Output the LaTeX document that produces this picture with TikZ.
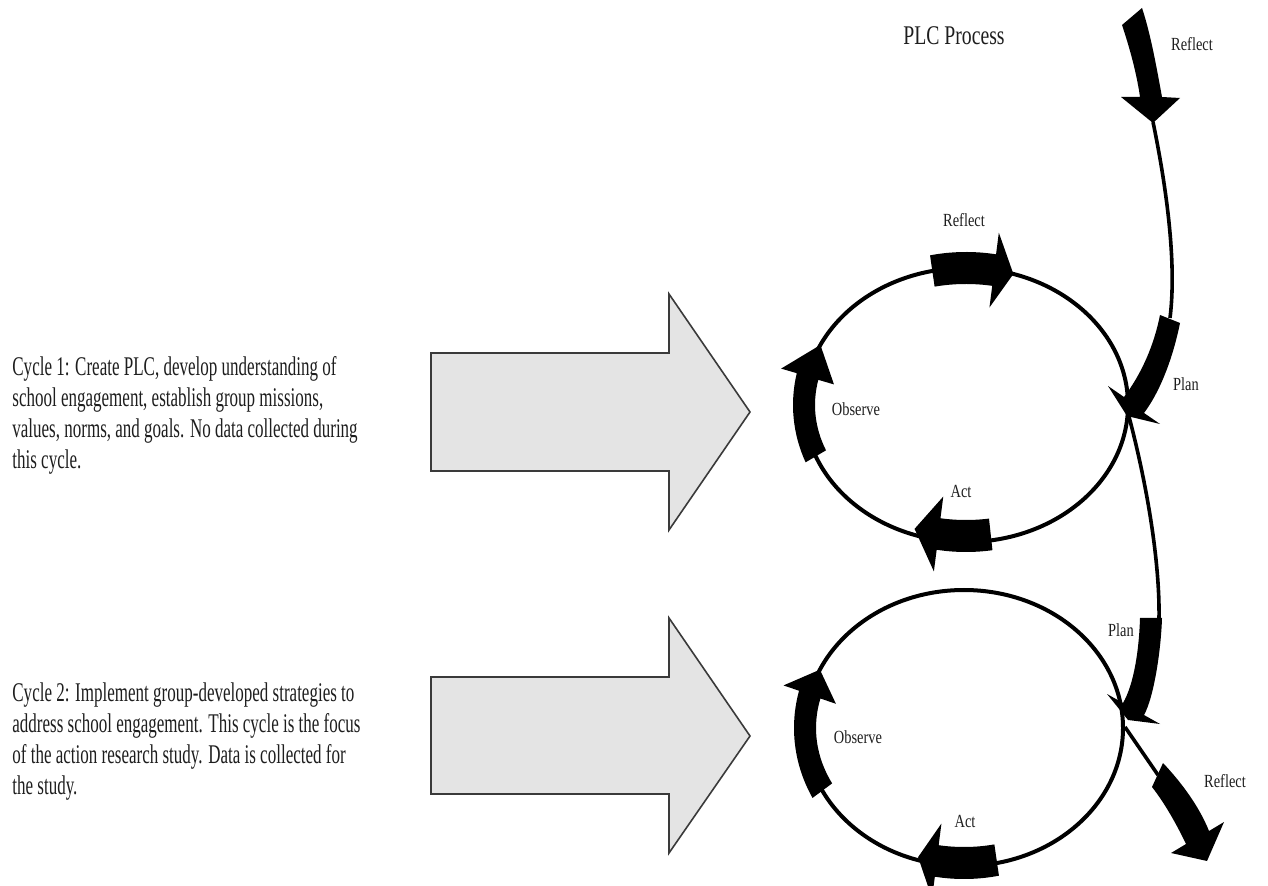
\documentclass[tikz,border=0pt]{standalone}
\usepackage{fontspec}
\setmainfont{Liberation Serif}
\newfontfamily\bodyfont{Liberation Serif}[FakeStretch=0.63]
\newfontfamily\titlefont{Liberation Serif}[FakeStretch=0.73]
\newfontfamily\labelfont{Liberation Serif}[FakeStretch=0.78]
\definecolor{arrowgray}{HTML}{E4E4E4}
\definecolor{arrowedge}{HTML}{3A3A3A}
\definecolor{inktext}{HTML}{1E1E1E}

% Thick block arrow running along an ellipse:
% #1,#2 centre; #3,#4 radii; #5 start angle; #6 end of body; #7 tip angle
\newcommand\ringarrow[7]{%
  \begin{scope}[shift={(#1,#2)}]
    \pgfmathsetmacro\rgAo{#3+11}\pgfmathsetmacro\rgBo{#4+16}%
    \pgfmathsetmacro\rgAi{#3-11}\pgfmathsetmacro\rgBi{#4-16}%
    \pgfmathsetmacro\rgAh{#3+27}\pgfmathsetmacro\rgBh{#4+38}%
    \pgfmathsetmacro\rgAj{#3-27}\pgfmathsetmacro\rgBj{#4-38}%
    \fill ({\rgAo*cos(#5)},{\rgBo*sin(#5)})
      arc[start angle=#5,end angle=#6,x radius=\rgAo,y radius=\rgBo]
      -- ({\rgAh*cos(#6)},{\rgBh*sin(#6)})
      -- ({#3*cos(#7)},{#4*sin(#7)})
      -- ({\rgAj*cos(#6)},{\rgBj*sin(#6)})
      -- ({\rgAi*cos(#6)},{\rgBi*sin(#6)})
      arc[start angle=#6,end angle=#5,x radius=\rgAi,y radius=\rgBi]
      -- cycle;
  \end{scope}}

\tikzset{
  ring/.style={line width=2pt},
  link/.style={line width=1.8pt},
  bigarrow/.style={fill=arrowgray,draw=arrowedge,line width=0.8pt,line join=miter},
  lbl/.style={inner sep=0pt,text=inktext,font=\labelfont\fontsize{9.25pt}{11pt}\selectfont},
  titletext/.style={inner sep=0pt,text=inktext,font=\titlefont\fontsize{13.5pt}{16pt}\selectfont},
  cycletext/.style={inner sep=0pt,anchor=base west,text=inktext}
}

\begin{document}
\begin{tikzpicture}[x=0.5pt,y=-0.5pt]
\fill[white] (0,0) rectangle (1268,886);
\useasboundingbox (0,0) rectangle (1268,886);

% descriptions of the two cycles
\node[cycletext] (cycA) at (12,376) {\parbox[t]{220pt}{\bodyfont\fontsize{13.5pt}{15.5pt}\selectfont\raggedright
Cycle 1: Create PLC, develop understanding of\\
school engagement, establish group missions,\\
values, norms, and goals. No data collected during\\
this cycle.}};
\node[cycletext] (cycB) at (12,701) {\parbox[t]{220pt}{\bodyfont\fontsize{13.5pt}{15.5pt}\selectfont\raggedright
Cycle 2: Implement group-developed strategies to\\
address school engagement. This cycle is the focus\\
of the action research study. Data is collected for\\
the study.}};

% large grey block arrows
\draw[bigarrow] (431,353) -- (669,353) -- (669,294) -- (750,412) -- (669,530) -- (669,471) -- (431,471) -- cycle;
\draw[bigarrow] (431,677) -- (669,677) -- (669,618) -- (750,736) -- (669,853) -- (669,794) -- (431,794) -- cycle;

% the two cycles
\draw[ring] (966,405) ellipse[x radius=162,y radius=137];
\draw[ring] (964,728) ellipse[x radius=159,y radius=138];

% anchor points of the connecting lines
\coordinate (topTip) at (1153,122);
\coordinate (planAtop) at (1170,318);
\coordinate (planAtip) at (1128,413);
\coordinate (planBtop) at (1159,619);
\coordinate (ringBright) at (1125,727);
\coordinate (reflBtop) at (1158,775);

% connecting lines
\draw[link] (topTip) .. controls (1166,185) and (1177,262) .. (planAtop);
\draw[link] (planAtip) .. controls (1146,480) and (1160,560) .. (planBtop);
\draw[link] (ringBright) -- (reflBtop);

% thick arrows on the first cycle
\ringarrow{966}{405}{162}{137}{258}{280}{287}   % reflect
\ringarrow{966}{405}{158}{131}{81}{100}{109}    % act
\ringarrow{966}{405}{162}{137}{158}{192}{206}   % observe

% thick arrows on the second cycle
\ringarrow{964}{728}{157}{135}{78}{100}{107}    % act
\ringarrow{964}{728}{159}{138}{153}{194}{205}   % observe

% incoming reflect arrow at the top
\fill (1122,25) .. controls (1131,52) and (1137,76) .. (1140,97)
  -- (1121,97) -- (1153,123) -- (1180,98) -- (1162,97)
  .. controls (1157,70) and (1151,35) .. (1142,8) -- cycle;

% plan arrow into the first cycle
\fill (1160,315) .. controls (1154,345) and (1142,373) .. (1124,397)
  -- (1108,386) -- (1127,416) -- (1160,424) -- (1144,413)
  .. controls (1162,389) and (1174,353) .. (1180,323) -- cycle;

% plan arrow into the second cycle
\fill (1140,618) .. controls (1139,650) and (1134,684) .. (1123,703)
  -- (1107,694) -- (1128,720) -- (1160,724) -- (1144,715)
  .. controls (1154,697) and (1161,650) .. (1162,618) -- cycle;

% outgoing reflect arrow
\fill (1163,763) .. controls (1181,782) and (1199,806) .. (1209,831)
  -- (1224,822) -- (1207,861) -- (1171,853) -- (1186,844)
  .. controls (1175,821) and (1163,801) .. (1152,787) -- cycle;

% labels
\node[titletext] (title) at (954,36) {PLC Process};
\node[lbl] (lReflTop) at (1192,44) {Reflect};
\node[lbl] (lReflA) at (964,220) {Reflect};
\node[lbl] (lPlanA) at (1186,384) {Plan};
\node[lbl] (lObsA) at (856,409) {Observe};
\node[lbl] (lActA) at (961,491) {Act};
\node[lbl] (lPlanB) at (1121,630) {Plan};
\node[lbl] (lObsB) at (858,737) {Observe};
\node[lbl] (lReflB) at (1225,781) {Reflect};
\node[lbl] (lActB) at (965,821) {Act};
\end{tikzpicture}
\end{document}
